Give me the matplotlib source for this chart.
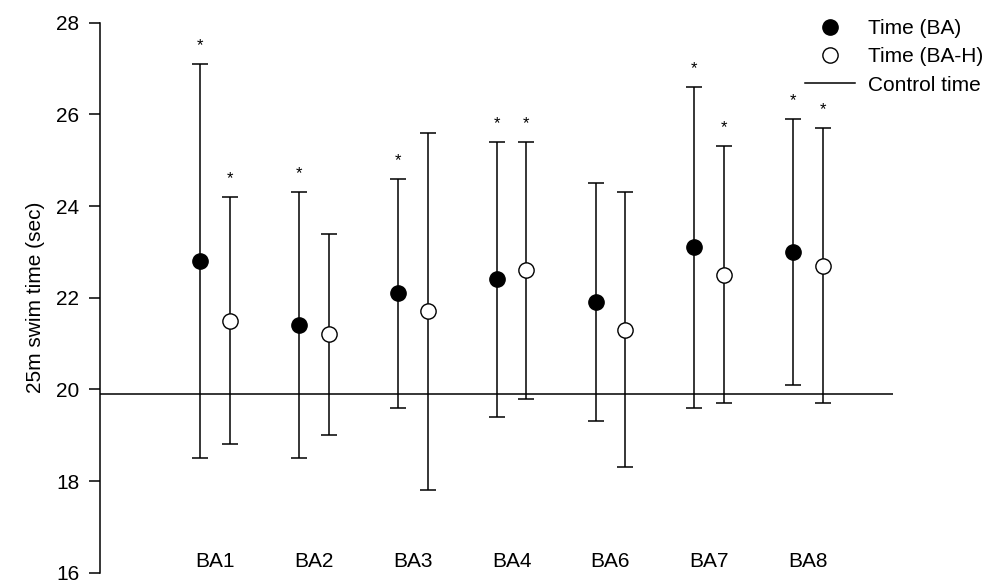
import matplotlib.pyplot as plt
from matplotlib.lines import Line2D
import numpy as np

plt.rcParams['font.family'] = ['Liberation Sans', 'DejaVu Sans']

groups = ["BA1", "BA2", "BA3", "BA4", "BA6", "BA7", "BA8"]

# Time (BA) - filled markers
ba_mean = [22.8, 21.4, 22.1, 22.4, 21.9, 23.1, 23.0]
ba_low = [18.5, 18.5, 19.6, 19.4, 19.3, 19.6, 20.1]
ba_high = [27.1, 24.3, 24.6, 25.4, 24.5, 26.6, 25.9]
ba_star = [True, True, True, True, False, True, True]

# Time (BA-H) - open markers
bah_mean = [21.5, 21.2, 21.7, 22.6, 21.3, 22.5, 22.7]
bah_low = [18.8, 19.0, 17.8, 19.8, 18.3, 19.7, 19.7]
bah_high = [24.2, 23.4, 25.6, 25.4, 24.3, 25.3, 25.7]
bah_star = [True, False, False, True, False, True, True]

control_time = 19.9

x = np.arange(len(groups))
off = 0.15
fs = 15

fig = plt.figure(figsize=(9.9, 5.83), dpi=100)
ax = fig.add_axes([0.101, 0.0177, 0.801, 0.9434])

ba_mean = np.array(ba_mean)
bah_mean = np.array(bah_mean)
err_ba = [ba_mean - np.array(ba_low), np.array(ba_high) - ba_mean]
err_bah = [bah_mean - np.array(bah_low), np.array(bah_high) - bah_mean]

ax.errorbar(x - off, ba_mean, yerr=err_ba, fmt="o", color="black", mfc="black",
            ms=11, capsize=6, elinewidth=1.1, capthick=1.1, zorder=3)
ax.errorbar(x + off, bah_mean, yerr=err_bah, fmt="o", color="black", mfc="white",
            ms=11, capsize=6, elinewidth=1.1, capthick=1.1, zorder=3)
ax.axhline(control_time, color="black", lw=1.1, zorder=1)

for i in range(len(groups)):
    if ba_star[i]:
        ax.text(x[i] - off, ba_high[i] + 0.4, "*", ha="center", va="center", fontsize=12)
    if bah_star[i]:
        ax.text(x[i] + off, bah_high[i] + 0.4, "*", ha="center", va="center", fontsize=12)
    ax.text(x[i], 16.25, groups[i], ha="center", va="center", fontsize=fs)

ax.set_xlim(-1.164, 6.86)
ax.set_ylim(16, 28)
ax.set_yticks([16, 18, 20, 22, 24, 26, 28])
ax.set_xticks([])
ax.tick_params(axis="y", labelsize=fs, length=8, width=1.1, direction="out", pad=7)
for s in ["top", "right", "bottom"]:
    ax.spines[s].set_visible(False)
ax.spines["left"].set_linewidth(1.1)
ax.set_ylabel("25m swim time (sec)", fontsize=fs, labelpad=8)

handles = [
    Line2D([], [], marker="o", ls="none", color="black", mfc="black", ms=11),
    Line2D([], [], marker="o", ls="none", color="black", mfc="white", ms=11),
    Line2D([], [], color="black", lw=1.1),
]
fig.legend(handles, ["Time (BA)", "Time (BA-H)", "Control time"], loc="upper left",
           bbox_to_anchor=(805 / 990, 1 - 19 / 583), frameon=False, fontsize=fs,
           handlelength=2.4, handletextpad=0.6, labelspacing=0.45,
           borderpad=0, borderaxespad=0)

plt.savefig("out.png")
